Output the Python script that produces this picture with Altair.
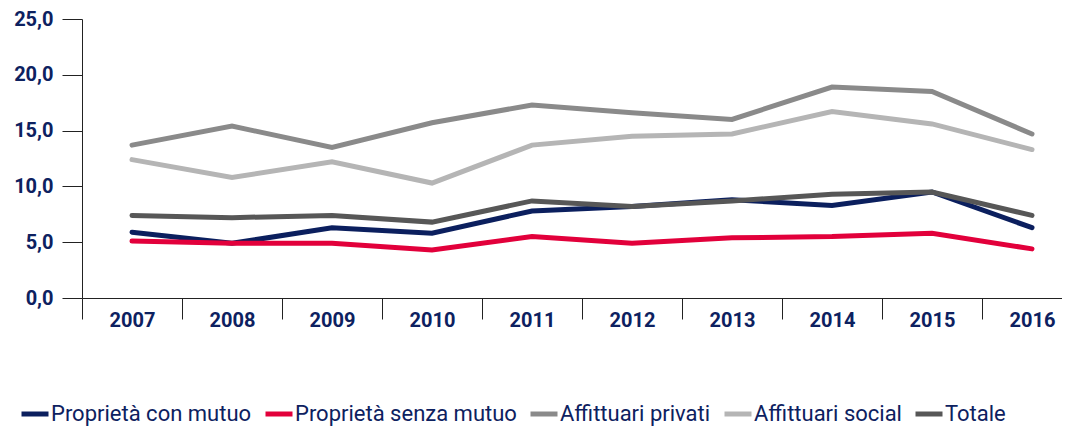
import altair as alt
import pandas as pd

years = ["2007", "2008", "2009", "2010", "2011", "2012", "2013", "2014", "2015", "2016"]
series = ["Proprietà con mutuo", "Proprietà senza mutuo", "Affittuari privati", "Affittuari social", "Totale"]
colors = ["#0b1f5e", "#e2003b", "#8a8a8a", "#b5b5b5", "#575757"]

mutuo = [5.9, 4.9, 6.3, 5.8, 7.8, 8.2, 8.8, 8.3, 9.5, 6.3]
senza_mutuo = [5.1, 4.9, 4.9, 4.3, 5.5, 4.9, 5.4, 5.5, 5.8, 4.4]
privati = [13.7, 15.4, 13.5, 15.7, 17.3, 16.6, 16.0, 18.9, 18.5, 14.7]
social = [12.4, 10.8, 12.2, 10.3, 13.7, 14.5, 14.7, 16.7, 15.6, 13.3]
totale = [7.4, 7.2, 7.4, 6.8, 8.7, 8.2, 8.7, 9.3, 9.5, 7.4]

values = [mutuo, senza_mutuo, privati, social, totale]
rows = []
for s, vals in zip(series, values):
    for y, v in zip(years, vals):
        rows.append({"anno": y, "serie": s, "valore": v})
df = pd.DataFrame(rows)

navy = "#0d2160"
font = "Roboto"

chart = alt.Chart(df).mark_line(strokeWidth=5, strokeCap="round", strokeJoin="miter").encode(
    x=alt.X("anno:O", sort=years,
            scale=alt.Scale(type="band", paddingInner=0, paddingOuter=0, range=[0, 1000]),
            axis=alt.Axis(title=None, tickBand="extent", tickSize=21, labelPadding=-9,
                          labelFontSize=20, labelFontWeight="bold", labelColor=navy,
                          labelFont=font, domainColor="#222222", tickColor="#222222",
                          labelAngle=0, grid=False)),
    y=alt.Y("valore:Q", scale=alt.Scale(domain=[0, 25], nice=False),
            axis=alt.Axis(title=None, values=[0, 5, 10, 15, 20, 25], tickSize=20, labelPadding=9,
                          labelExpr="replace(format(datum.value, '.1f'), '.', ',')",
                          labelFontSize=20, labelFontWeight="bold", labelColor=navy,
                          labelFont=font, domainColor="#222222", tickColor="#222222", grid=False)),
    color=alt.Color("serie:N", sort=series, scale=alt.Scale(domain=series, range=colors),
                    legend=alt.Legend(title=None, orient="none", legendX=-63, legendY=379,
                                      direction="horizontal", columns=5, symbolType="stroke",
                                      symbolSize=729, symbolStrokeWidth=5, labelFontSize=22,
                                      labelFont=font, labelColor=navy, labelOffset=0,
                                      columnPadding=3, labelLimit=400)),
    order=alt.Order("anno:O"),
).properties(
    width=980, height=279,
    autosize=alt.AutoSizeParams(type="none"),
    padding={"left": 74, "top": 11, "right": 0, "bottom": 130},
).configure_view(stroke=None)

chart.save("out.html", embed_options={"renderer": "svg", "actions": False})
